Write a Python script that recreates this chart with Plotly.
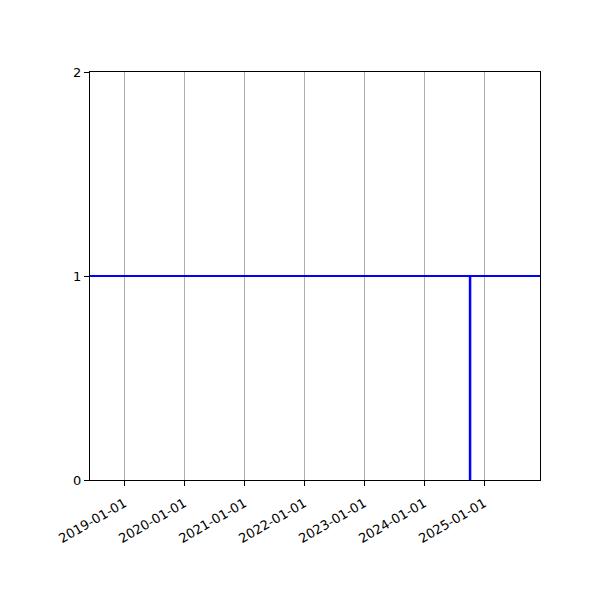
import plotly.graph_objects as go

# horizontal level line
fechas_nivel = ["2018-06-06", "2025-12-07"]
valores_nivel = [1, 1]

# vertical marker line
fechas_marca = ["2024-10-07", "2024-10-07"]
valores_marca = [0, 1]

ticks_x = ["2019-01-01", "2020-01-01", "2021-01-01", "2022-01-01",
           "2023-01-01", "2024-01-01", "2025-01-01"]
ticks_y = [0, 1, 2]

fig = go.Figure()

fig.add_trace(go.Scatter(x=fechas_nivel, y=valores_nivel, mode="lines",
                         line=dict(color="blue", width=2), showlegend=False))
fig.add_trace(go.Scatter(x=fechas_marca, y=valores_marca, mode="lines",
                         line=dict(color="blue", width=2.5), showlegend=False))

# the page body adds an 8px offset, so margins are shifted to compensate
fig.update_layout(
    width=600, height=600,
    margin=dict(l=82, r=68, t=64, b=128),
    plot_bgcolor="white", paper_bgcolor="white",
    font=dict(family="DejaVu Sans", size=13, color="black"),
)

fig.update_xaxes(
    range=["2018-06-06", "2025-12-07"],
    tickvals=ticks_x, ticktext=ticks_x, tickangle=-30,
    ticklabelstandoff=5,
    showgrid=True, gridcolor="#b0b0b0", gridwidth=1,
    showline=True, linecolor="black", linewidth=1, mirror=True,
    ticks="outside", ticklen=5, tickcolor="black", zeroline=False,
)
fig.update_yaxes(
    range=[0, 2], tickvals=ticks_y,
    showgrid=False,
    showline=True, linecolor="black", linewidth=1, mirror=True,
    ticks="outside", ticklen=5, tickcolor="black", zeroline=False,
)

fig.write_html("out.html")
